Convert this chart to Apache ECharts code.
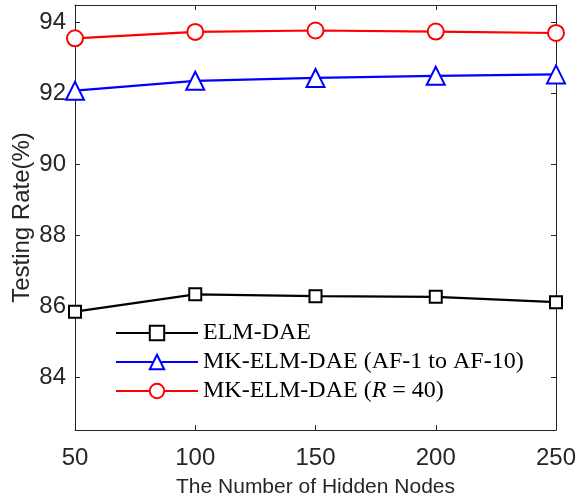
<!DOCTYPE html>
<html>
<head>
<meta charset="utf-8">
<script src="https://cdn.jsdelivr.net/npm/echarts@6/dist/echarts.min.js"></script>
<style>
  html, body { margin: 0; padding: 0; background: #fff; }
  #chart { width: 576px; height: 504px; }
</style>
</head>
<body>
<div id="chart"></div>
<script>
// data
const hiddenNodes = [50, 100, 150, 200, 250];
const elmDae = [85.84, 86.33, 86.28, 86.26, 86.11];
const mkAf = [92.08, 92.36, 92.44, 92.50, 92.54];
const mkR40 = [93.56, 93.74, 93.78, 93.75, 93.71];
const yTicks = [84, 86, 88, 90, 92, 94];
const xTicks = [50, 100, 150, 200, 250];

const axisColor = '#262626';
const sans = 'Liberation Sans';
const serif = 'Liberation Serif';

function pairs(vals) {
  let out = [];
  for (let i = 0; i < hiddenNodes.length; i++) {
    out.push([hiddenNodes[i], vals[i]]);
  }
  return out;
}

function makeSeries(name, vals, color, symbol, size) {
  return {
    name: name,
    type: 'line',
    data: pairs(vals),
    symbol: symbol,
    symbolSize: size,
    showAllSymbol: true,
    lineStyle: { color: color, width: 2.2 },
    itemStyle: { color: color, borderColor: color, borderWidth: 2.2 },
    emphasis: { disabled: true },
    animation: false
  };
}

let dom = document.getElementById('chart');
let myChart = echarts.init(dom, null, { renderer: 'canvas' });

let xBase = {
  type: 'value', min: 50, max: 250, interval: 50,
  axisLine: { show: true, lineStyle: { color: axisColor, width: 1 } },
  axisTick: { show: true, inside: true, length: 5, lineStyle: { color: axisColor } },
  splitLine: { show: false }
};
let yBase = {
  type: 'value', min: 82.5, max: 94.5,
  axisLine: { show: true, lineStyle: { color: axisColor, width: 1 } },
  axisTick: { show: true, inside: true, length: 5, customValues: yTicks, lineStyle: { color: axisColor } },
  splitLine: { show: false }
};

let option = {
  backgroundColor: '#fff',
  grid: { left: 75, right: 20, top: 5, bottom: 74, containLabel: false, outerBoundsMode: 'none' },
  xAxis: [
    Object.assign({}, xBase, {
      position: 'bottom',
      name: 'The Number of Hidden Nodes',
      nameLocation: 'middle',
      nameGap: 47,
      nameMoveOverlap: false,
      nameTextStyle: { fontFamily: sans, fontSize: 21, color: axisColor },
      axisLabel: { show: true, margin: 16, fontFamily: sans, fontSize: 24, color: axisColor, customValues: xTicks }
    }),
    Object.assign({}, xBase, {
      position: 'top',
      axisLabel: { show: false }
    })
  ],
  yAxis: [
    Object.assign({}, yBase, {
      position: 'left',
      name: 'Testing Rate(%)',
      nameLocation: 'middle',
      nameGap: 41,
      nameMoveOverlap: false,
      nameTextStyle: { fontFamily: sans, fontSize: 24, color: axisColor },
      axisLabel: { show: true, margin: 9, fontFamily: sans, fontSize: 24, color: axisColor, customValues: yTicks }
    }),
    Object.assign({}, yBase, {
      position: 'right',
      axisLabel: { show: false }
    })
  ],
  legend: {
    orient: 'vertical',
    left: 115,
    top: 321,
    itemWidth: 82,
    itemHeight: 18,
    itemGap: 5,
    padding: 0,
    selectedMode: false,
    textStyle: {
      fontFamily: serif, fontSize: 24, color: '#000',
      rich: {
        n: { fontFamily: serif, fontSize: 24, color: '#000' },
        i: { fontFamily: serif, fontSize: 24, color: '#000', fontStyle: 'italic' }
      }
    },
    formatter: function (name) {
      if (name === 'MK-ELM-DAE (R = 40)') {
        return '{n|MK-ELM-DAE (}{i|R}{n| = 40)}';
      }
      return '{n|' + name + '}';
    },
    data: ['ELM-DAE', 'MK-ELM-DAE (AF-1 to AF-10)', 'MK-ELM-DAE (R = 40)']
  },
  series: [
    makeSeries('ELM-DAE', elmDae, '#000000', 'emptyRect', 12),
    makeSeries('MK-ELM-DAE (AF-1 to AF-10)', mkAf, '#0000ff', 'emptyTriangle', 18),
    makeSeries('MK-ELM-DAE (R = 40)', mkR40, '#ff0000', 'emptyCircle', 16)
  ]
};

myChart.setOption(option);
window.addEventListener('resize', myChart.resize);
</script>
</body>
</html>
